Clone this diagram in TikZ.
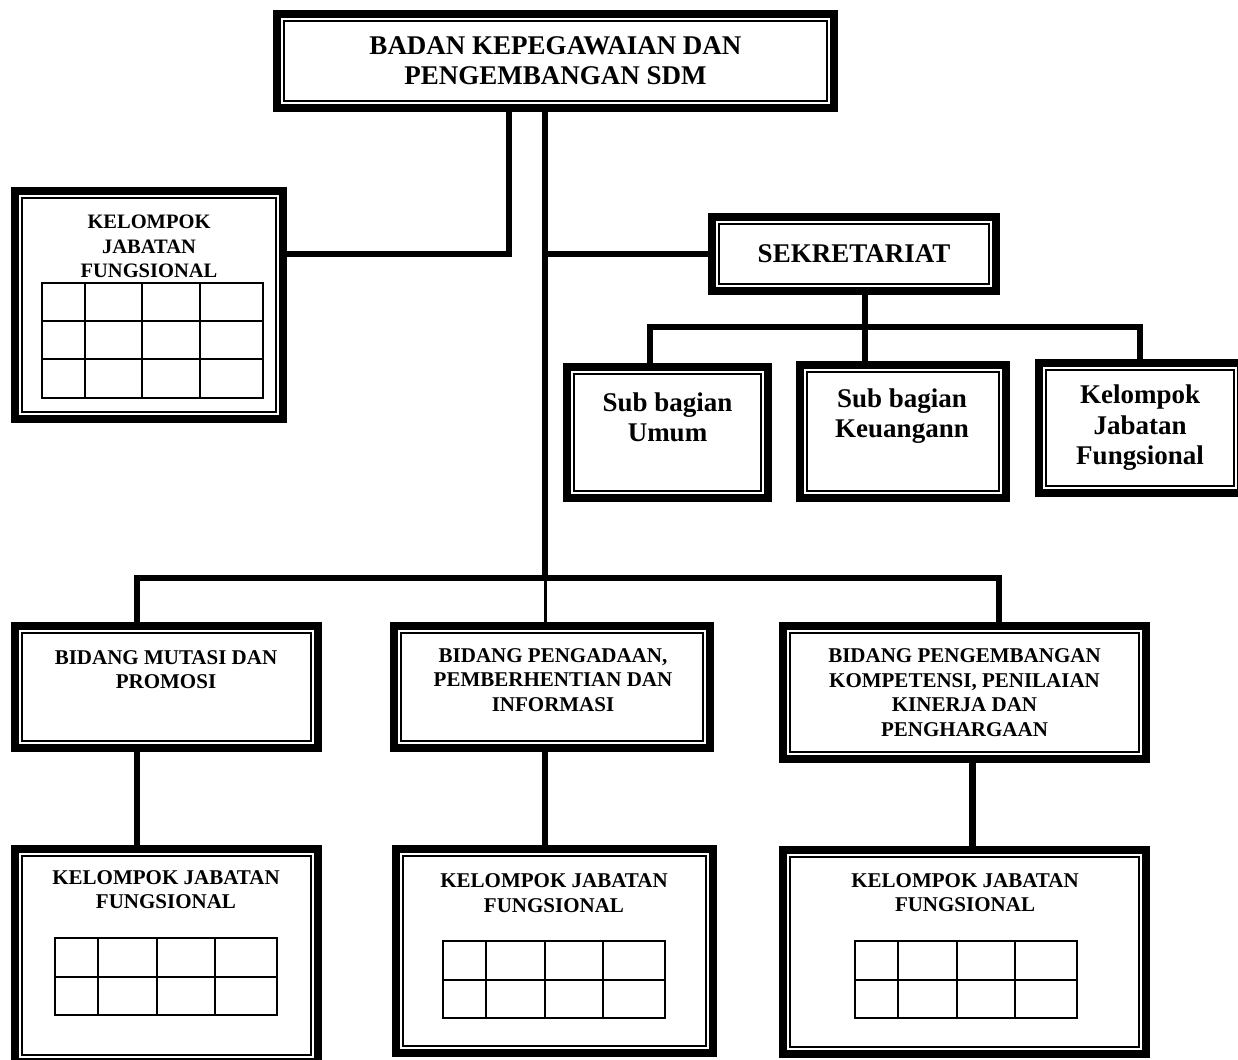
\documentclass[tikz,border=0pt]{standalone}
\usepackage{fontspec}
\setmainfont{Liberation Serif}
\usetikzlibrary{positioning}

\tikzset{
  box/.style={draw, line width=8pt, outer sep=0pt, inner sep=0pt, fill=white, align=center},
  frame/.style={line width=1.8pt},
  conn/.style={line width=5.5pt},
  cell/.style={line width=2pt, line cap=rect},
  big/.style={font=\bfseries\fontsize{27}{30}\selectfont},
  mid/.style={font=\bfseries\fontsize{21}{24.5}\selectfont},
  small/.style={font=\bfseries\fontsize{20.5}{24.5}\selectfont},
  txt/.style={align=center, inner sep=0pt},
}

\begin{document}
\begin{tikzpicture}[x=1pt, y=-1pt]
        \useasboundingbox (0,0) rectangle (1238,1059);
        % boxes
        \node[box, big, minimum width=557pt, minimum height=94pt] (top) at (555.5,61) {BADAN KEPEGAWAIAN DAN\\PENGEMBANGAN SDM};
        \node[box, minimum width=268pt, minimum height=228pt] (kjfl) at (149,305) {};
        \node[box, big, minimum width=284pt, minimum height=74pt] (sek) at (854,254) {SEKRETARIAT};
        \node[box, minimum width=201pt, minimum height=131pt] (umum) at (667.5,432.5) {};
        \node[box, minimum width=206pt, minimum height=133pt] (keu) at (903,431.5) {};
        \node[box, big, font=\bfseries\fontsize{27}{30.5}\selectfont, minimum width=202pt, minimum height=130pt] (kjfs) at (1140,428) {Kelompok\\Jabatan\\Fungsional};
        \node[box, minimum width=303pt, minimum height=122pt] (mut) at (166.5,687) {};
        \node[box, minimum width=316pt, minimum height=122pt] (pad) at (552,687) {};
        \node[box, mid, minimum width=363pt, minimum height=133pt] (peng) at (964.5,692.5) {BIDANG PENGEMBANGAN\\KOMPETENSI, PENILAIAN\\KINERJA DAN\\PENGHARGAAN};
        \node[box, minimum width=303pt, minimum height=213pt] (kjf1) at (166.5,955.5) {};
        \node[box, minimum width=317pt, minimum height=204pt] (kjf2) at (554.5,951) {};
        \node[box, minimum width=363pt, minimum height=204pt] (kjf3) at (964.5,952) {};
        \foreach \n in {top,kjfl,sek,umum,keu,kjfs,mut,pad,peng,kjf1,kjf2,kjf3}
            \draw[frame] ([shift={(7pt,-7pt)}]\n.north west) rectangle ([shift={(-7pt,7pt)}]\n.south east);
        % texts
        \node[txt, small] (kjflt) at (149,246.5) {KELOMPOK\\JABATAN\\FUNGSIONAL};
        \node[txt, big] (umumt) at (667.5,417.5) {Sub bagian\\Umum};
        \node[txt, big] (keut) at (902,416) {Sub bagian\\Keuangann};
        \node[txt, mid] (mutt) at (166,669.5) {BIDANG MUTASI DAN\\PROMOSI};
        \node[txt, mid] (padt) at (553,680) {BIDANG PENGADAAN,\\PEMBERHENTIAN DAN\\INFORMASI};
        \node[txt, mid] (kjf1t) at (166,889.5) {KELOMPOK JABATAN\\FUNGSIONAL};
        \node[txt, mid] (kjf2t) at (554,893) {KELOMPOK JABATAN\\FUNGSIONAL};
        \node[txt, mid] (kjf3t) at (965,892.5) {KELOMPOK JABATAN\\FUNGSIONAL};
        % grids
        \foreach \x in {42,85,142,200,263}
            \draw[cell] (\x,283) -- (\x,398);
        \foreach \y in {283,321,359,398}
            \draw[cell] (42,\y) -- (263,\y);
        \foreach \gx/\gy in {55/938,443/941,855/941} {
            \foreach \dx in {0,43,102,160,222}
                \draw[cell] (\gx+\dx,\gy) -- ++(0,77);
            \foreach \dy in {0,38.5,77}
                \draw[cell] (\gx,\gy+\dy) -- ++(222,0);
        }
        % connectors
        \coordinate (jl) at (509,254);
        \coordinate (jm) at (545,254);
        \coordinate (bs) at (865,327);
        \coordinate (bb) at (545,578);
        \draw[conn] (top.south -| jl) |- (kjfl.east |- jl);
        \draw[conn] (top.south -| jm) -- (bb);
        \draw[conn] (jm) -- (sek.west |- jm);
        \draw[conn] (sek.south -| bs) -- (bs);
        \draw[conn] ([xshift=-17.5pt]umum.north) |- (bs) -| (kjfs.north);
        \draw[conn] (bs) -- (keu.north -| bs);
        \draw[conn] ([xshift=-29.5pt]mut.north) |- (bb) -| ([xshift=34.5pt]peng.north);
        \draw[conn, line width=3pt] (bb) -- (pad.north -| bb);
        \draw[conn, line width=6.5pt] ([xshift=-29.5pt]mut.south) -- ([xshift=-29.5pt]kjf1.north);
        \draw[conn, line width=6pt] (pad.south -| bb) -- (kjf2.north -| bb);
        \draw[conn, line width=7pt] ([xshift=7.5pt]peng.south) -- ([xshift=7.5pt]kjf3.north);
    \end{tikzpicture}
\end{document}
